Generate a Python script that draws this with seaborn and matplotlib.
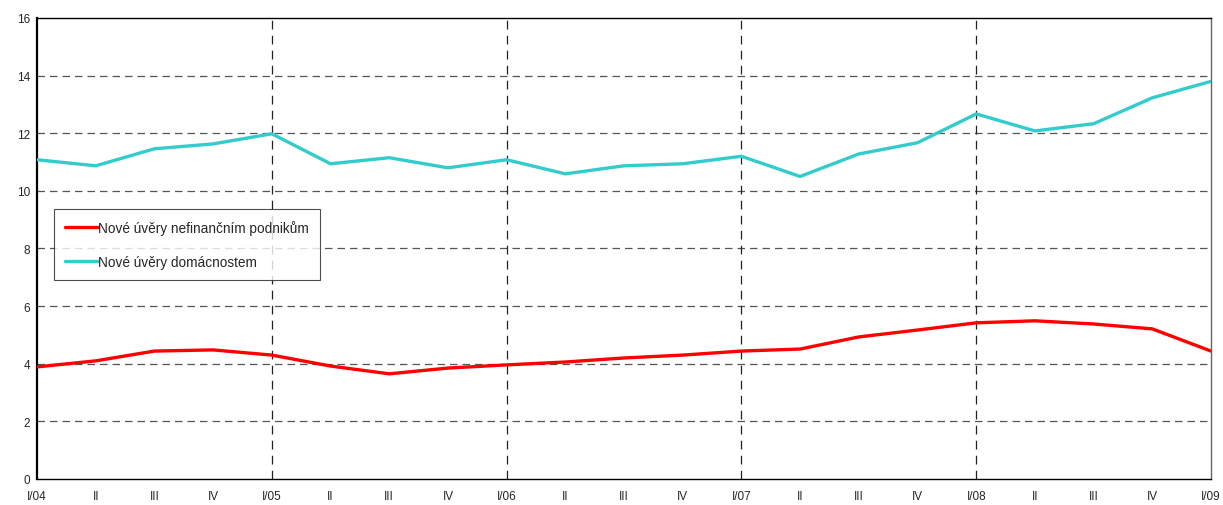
import pandas as pd
import matplotlib.pyplot as plt
import seaborn as sns

# -----------------------------
# Data
# -----------------------------
QUARTERS = ["I/04", "II", "III", "IV",
            "I/05", "II", "III", "IV",
            "I/06", "II", "III", "IV",
            "I/07", "II", "III", "IV",
            "I/08", "II", "III", "IV",
            "I/09"]

PODNIKY = [3.89, 4.10, 4.44, 4.48, 4.30, 3.92, 3.65, 3.85, 3.96, 4.06, 4.20,
           4.30, 4.44, 4.51, 4.93, 5.17, 5.42, 5.49, 5.38, 5.21, 4.44]

DOMACNOSTI = [11.08, 10.87, 11.46, 11.63, 11.98, 10.94, 11.15, 10.80, 11.08,
              10.59, 10.87, 10.94, 11.20, 10.50, 11.28, 11.67, 12.67, 12.08,
              12.33, 13.23, 13.80]

LABEL_PODNIKY = "Nové úvěry nefinančním podnikům"
LABEL_DOMACNOSTI = "Nové úvěry domácnostem"

YEAR_STARTS = [4, 8, 12, 16]

# -----------------------------
# Style
# -----------------------------
sns.set_style("white")
plt.rcParams["font.family"] = ["Liberation Sans", "DejaVu Sans"]

df = pd.DataFrame({
    "pos": list(range(len(QUARTERS))) * 2,
    "value": PODNIKY + DOMACNOSTI,
    "serie": [LABEL_PODNIKY] * len(PODNIKY) + [LABEL_DOMACNOSTI] * len(DOMACNOSTI),
})

fig = plt.figure(figsize=(12.23, 5.06), dpi=100)
ax = fig.add_axes([0.0303, 0.0514, 0.9599, 0.9111])

# grid
for yv in range(2, 16, 2):
    ax.axhline(yv, color="#555555", lw=0.9, ls=(0, (6, 4)), zorder=1)
for xv in YEAR_STARTS:
    ax.axvline(xv, color="#222222", lw=0.9, ls=(0, (7, 5)), zorder=1)

sns.lineplot(data=df, x="pos", y="value", hue="serie",
             palette={LABEL_PODNIKY: "#ff0000", LABEL_DOMACNOSTI: "#33cccc"},
             linewidth=2.4, ax=ax, zorder=3)

ax.set_xlim(0, len(QUARTERS) - 1)
ax.set_ylim(0, 16)
ax.set_xticks(range(len(QUARTERS)))
ax.set_xticklabels(QUARTERS)
ax.set_yticks(range(0, 17, 2))
ax.set_xlabel("")
ax.set_ylabel("")
ax.tick_params(axis="both", labelsize=8.5, length=4, width=0.8, color="#333333",
               direction="inout", pad=3)
ax.tick_params(axis="x", pad=6)

for side in ["left", "bottom", "top"]:
    ax.spines[side].set_color("black")
ax.spines["left"].set_linewidth(1.6)
ax.spines["bottom"].set_linewidth(1.0)
ax.spines["top"].set_linewidth(1.0)
ax.spines["right"].set_color("#666666")
ax.spines["right"].set_linewidth(1.0)

leg = ax.legend(loc="upper left", bbox_to_anchor=(0.0145, 0.586), fontsize=9.8,
                frameon=True, fancybox=False, edgecolor="#222222",
                handlelength=2.4, handletextpad=0.05, labelspacing=1.5,
                borderpad=0.8, borderaxespad=0)
leg.get_frame().set_linewidth(0.8)
for line in leg.get_lines():
    line.set_linewidth(2.4)

fig.savefig("out.png", dpi=100)
